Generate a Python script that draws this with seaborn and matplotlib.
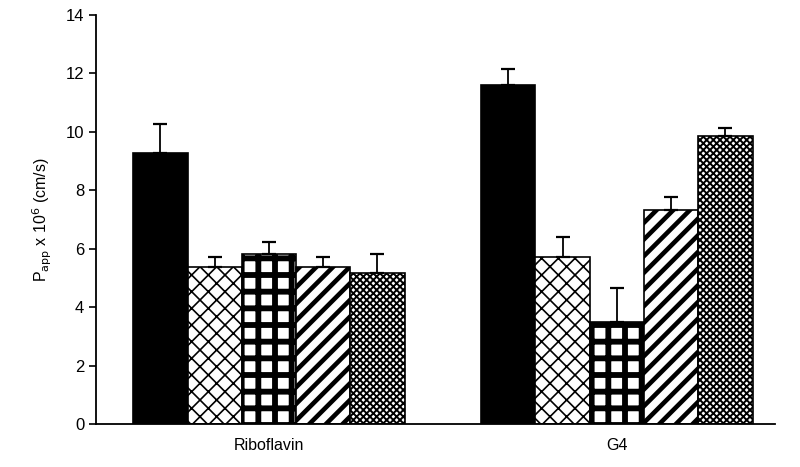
import numpy as np
import pandas as pd
import matplotlib
matplotlib.use('Agg')
import matplotlib.pyplot as plt
import seaborn as sns

# data
compounds = ['Riboflavin', 'G4']
treatments = ['T1', 'T2', 'T3', 'T4', 'T5']
riboflavin_mean = [9.28, 5.38, 5.82, 5.38, 5.17]
riboflavin_err = [0.99, 0.34, 0.41, 0.34, 0.65]
g4_mean = [11.60, 5.72, 3.49, 7.33, 9.86]
g4_err = [0.56, 0.68, 1.17, 0.44, 0.28]

hatches = ['', 'xx', '+', '//', 'xxxxx']
fills = ['black', 'white', 'white', 'white', 'white']
hatch_lw = [1.0, 1.2, 4.2, 3.3, 1.4]

df = pd.DataFrame({
    'compound': np.repeat(compounds, len(treatments)),
    'treatment': treatments * len(compounds),
    'papp': riboflavin_mean + g4_mean,
    'err': riboflavin_err + g4_err,
})

sns.set_style('ticks')
plt.rcParams['font.family'] = ['Liberation Sans', 'DejaVu Sans']
plt.rcParams['hatch.color'] = 'black'
plt.rcParams['text.color'] = 'black'
plt.rcParams['xtick.color'] = 'black'
plt.rcParams['ytick.color'] = 'black'
plt.rcParams['axes.labelcolor'] = 'black'
plt.rcParams['axes.edgecolor'] = 'black'

fig = plt.figure(figsize=(8, 4.67), dpi=100)
ax = fig.add_axes([0.12, 0.092, 0.849, 0.876])

sns.barplot(data=df, x='compound', y='papp', hue='treatment', order=compounds,
            hue_order=treatments, palette=fills, width=0.78, errorbar=None,
            edgecolor='black', linewidth=1.2, legend=False, ax=ax)

# hatches and error bars (upper only)
bar_conts = list(ax.containers)
for i, cont in enumerate(bar_conts):
    xs, tops = [], []
    for bar in cont:
        bar.set_hatch(hatches[i])
        if hasattr(bar, 'set_hatch_linewidth'):
            bar.set_hatch_linewidth(hatch_lw[i])
        xs.append(bar.get_x() + bar.get_width() / 2)
        tops.append(bar.get_height())
    errs = df[df['treatment'] == treatments[i]]['err'].values
    ax.errorbar(xs, tops, yerr=[np.zeros(len(errs)), errs], fmt='none',
                ecolor='black', elinewidth=1.3, capsize=5, capthick=1.6, zorder=1)

ax.set_xlim(-0.497, 1.455)
ax.set_ylim(0, 14)
ax.set_yticks(range(0, 15, 2))
ax.set_xlabel('')
ax.set_ylabel(r'P$_{\mathrm{app}}$ x 10$^{6}$ (cm/s)', fontsize=11.5, labelpad=8)
ax.tick_params(axis='y', direction='out', length=5, width=1.2, labelsize=12)
ax.tick_params(axis='x', length=0, labelsize=11.5, pad=10)
for s in ['top', 'right']:
    ax.spines[s].set_visible(False)
for s in ['left', 'bottom']:
    ax.spines[s].set_linewidth(1.3)

fig.savefig('out.png', dpi=100)
